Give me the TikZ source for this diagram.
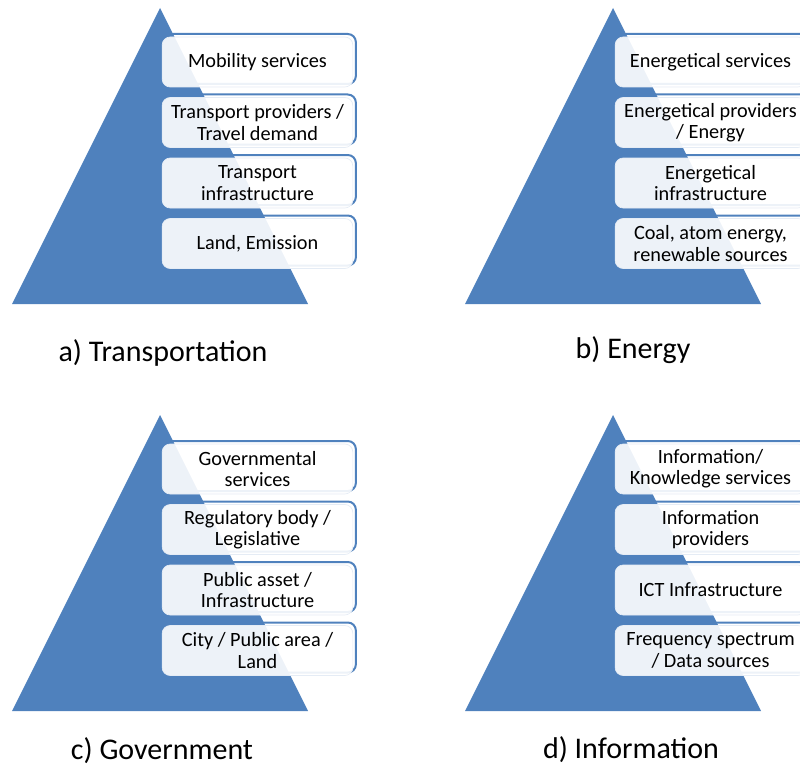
\documentclass[tikz,border=0pt]{standalone}
\usepackage{fontspec}
\setmainfont{Carlito}
\definecolor{pyrblue}{HTML}{4F81BD}

\begin{document}
\begin{tikzpicture}[x=0.75pt,y=-0.75pt]
\tikzstyle{layer}=[rectangle,rounded corners=6pt,minimum width=143pt,minimum height=37.5pt,inner sep=0pt,align=center,fill=white,fill opacity=0.9,text opacity=1,draw=pyrblue!15,line width=0.5pt,font=\fontsize{15.2}{16}\selectfont,preaction={draw=pyrblue,line width=1.5pt,transform canvas={shift={(2.25pt,2.25pt)}}}]
\tikzstyle{pyramid}=[fill=pyrblue]
\tikzstyle{caption}=[anchor=base,font=\fontsize{22.5}{27}\selectfont]
\useasboundingbox (0,0) rectangle (800,767);
\clip (0,0) rectangle (800,767);
% transportation
\fill[pyramid] (160,8) -- (12,304) -- (308,304) -- cycle;
\node[layer] (tr1) at (257.5,62) {Mobility services};
\node[layer] (tr2) at (257.5,122.5) {Transport providers /\\Travel demand};
\node[layer] (tr3) at (257.5,183) {Transport\\infrastructure};
\node[layer] (tr4) at (257.5,243.5) {Land, Emission};
\node[caption] (trcap) at (163,361) {a) Transportation};
% energy
\fill[pyramid] (613,8) -- (465,304) -- (761,304) -- cycle;
\node[layer] (en1) at (710.5,62) {Energetical services};
\node[layer] (en2) at (710.5,122.5) {Energetical providers\\/ Energy};
\node[layer] (en3) at (710.5,183) {Energetical\\infrastructure};
\node[layer] (en4) at (710.5,243.5) {Coal, atom energy,\\renewable sources};
\node[caption] (encap) at (633,358) {b) Energy};
% government
\fill[pyramid] (160,415) -- (12,711) -- (308,711) -- cycle;
\node[layer] (go1) at (257.5,469) {Governmental\\services};
\node[layer] (go2) at (257.5,529.5) {Regulatory body /\\Legislative};
\node[layer] (go3) at (257.5,590) {Public asset /\\Infrastructure};
\node[layer] (go4) at (257.5,650.5) {City / Public area /\\Land};
\node[caption] (gocap) at (162,759) {c) Government};
% information
\fill[pyramid] (613,415) -- (465,711) -- (761,711) -- cycle;
\node[layer] (in1) at (710.5,469) {Information/\\Knowledge services};
\node[layer] (in2) at (710.5,529.5) {Information\\providers};
\node[layer] (in3) at (710.5,590) {ICT Infrastructure};
\node[layer] (in4) at (710.5,650.5) {Frequency spectrum\\/ Data sources};
\node[caption] (incap) at (631,758) {d) Information};
\end{tikzpicture}
\end{document}
